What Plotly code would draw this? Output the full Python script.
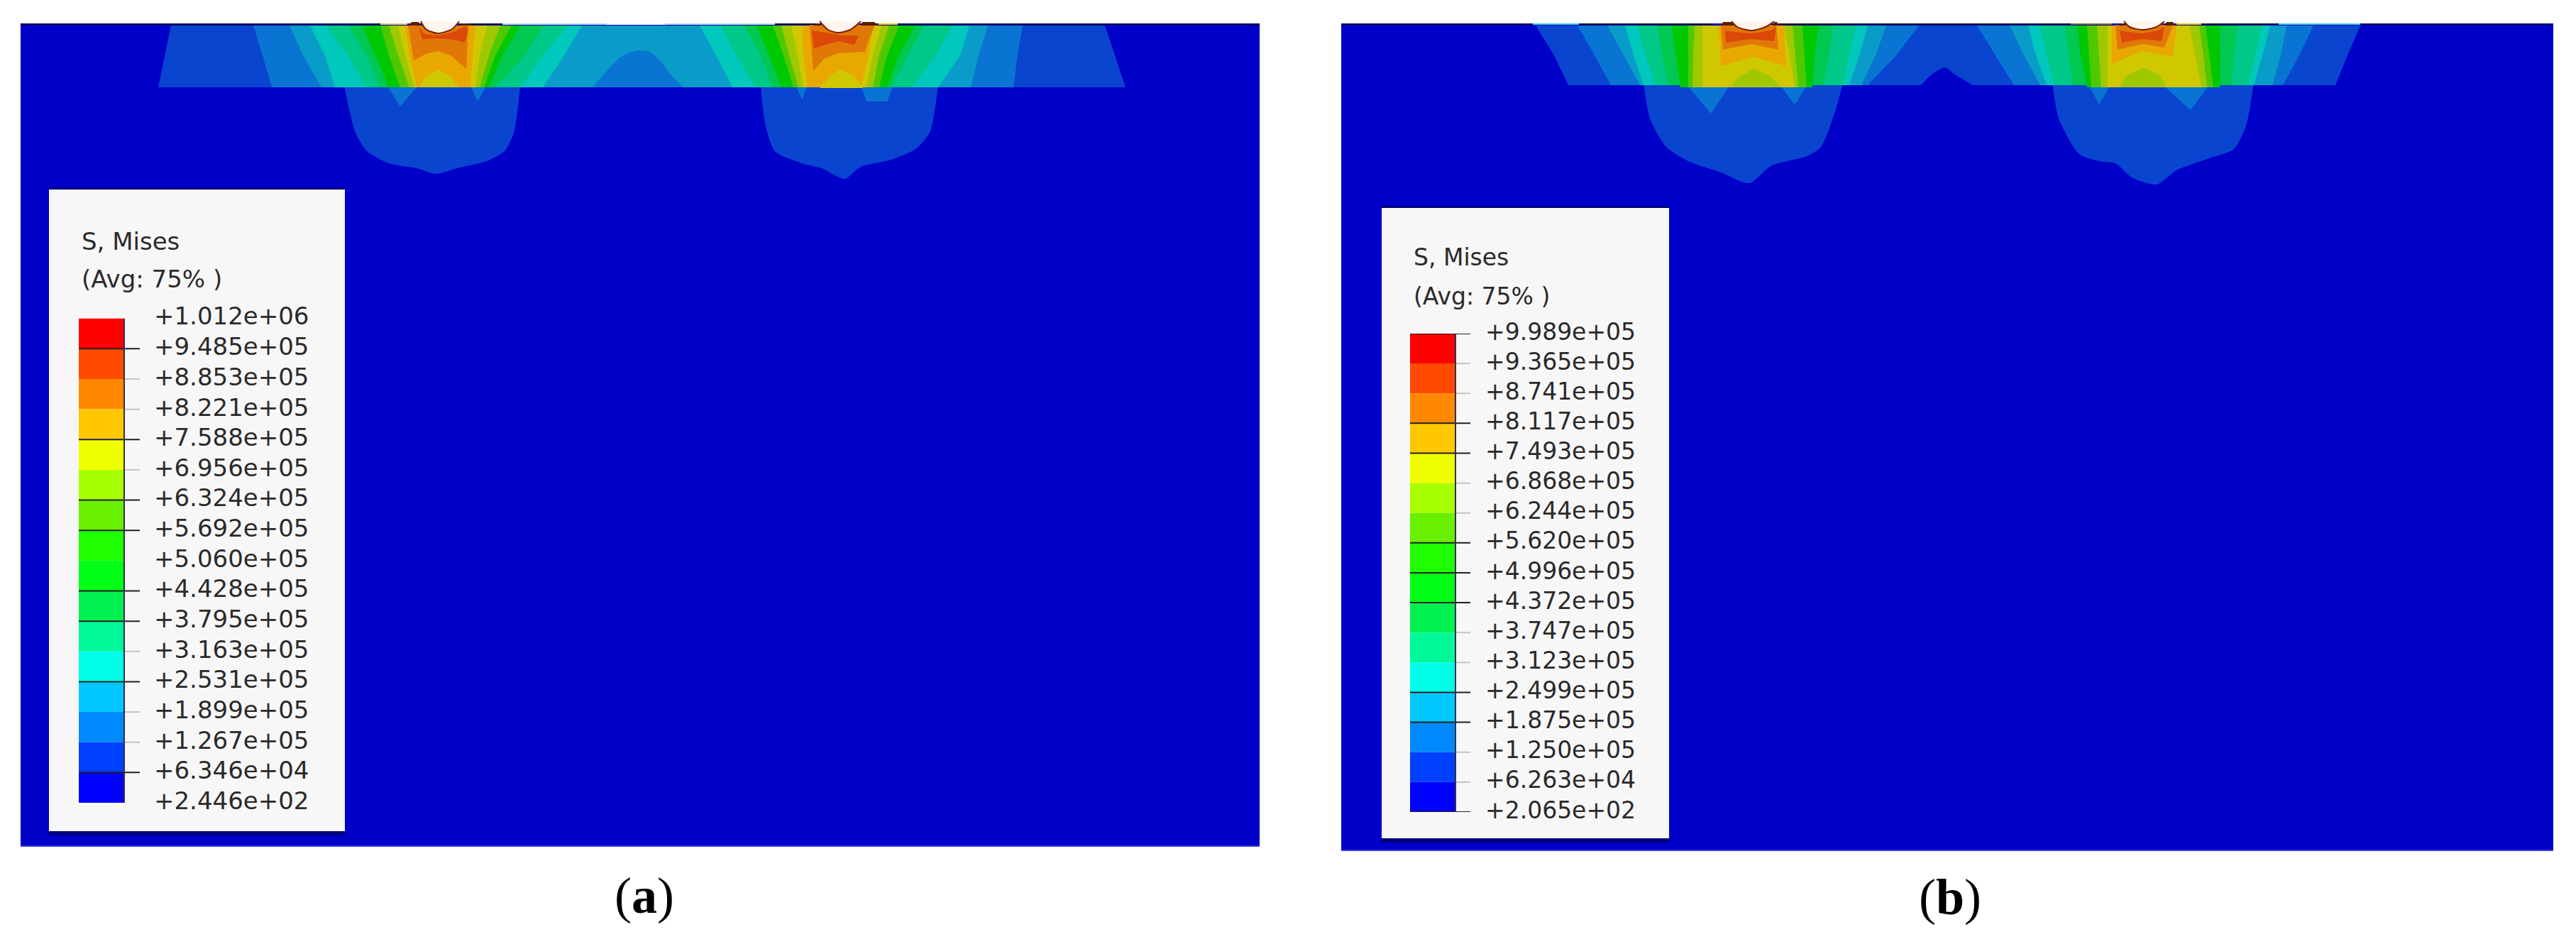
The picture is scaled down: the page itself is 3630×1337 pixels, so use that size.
import plotly.graph_objects as go

W, H = 3630, 1337

# ---------- legend data ----------
A_LABELS = ["+1.012e+06","+9.485e+05","+8.853e+05","+8.221e+05","+7.588e+05","+6.956e+05","+6.324e+05","+5.692e+05","+5.060e+05","+4.428e+05","+3.795e+05","+3.163e+05","+2.531e+05","+1.899e+05","+1.267e+05","+6.346e+04","+2.446e+02"]
B_LABELS = ["+9.989e+05","+9.365e+05","+8.741e+05","+8.117e+05","+7.493e+05","+6.868e+05","+6.244e+05","+5.620e+05","+4.996e+05","+4.372e+05","+3.747e+05","+3.123e+05","+2.499e+05","+1.875e+05","+1.250e+05","+6.263e+04","+2.065e+02"]
A_DARK_TICKS = [1, 4, 6, 7, 9, 10, 12, 15]
A_FAINT_TICKS = [2, 3, 5, 11, 13, 14]
B_DARK_TICKS = [0, 3, 4, 7, 8, 9, 12, 13, 16]
B_FAINT_TICKS = [1, 2, 5, 6, 10, 11, 14, 15]
SPECTRUM = ["#ff0000","#ff4a00","#ff8800","#ffc800","#f0ff00","#a8ff00","#68f000","#20ff00","#00ff14","#00f050","#00f898","#00ffe8","#00c8ff","#0088ff","#0040ff","#0000ff"]

# ---------- contour colours as rendered on the model ----------
BG = "#0000c8"
LV = {1:"#0a45d0",2:"#0a74d2",3:"#0a9cc8",4:"#00c8bc",5:"#00c888",6:"#00c850",7:"#00c800",8:"#50c800",9:"#9fc800",10:"#cfc800",11:"#e8a800",12:"#e07808",13:"#dc4808"}
NOTCH = "#fff6ee"

# ---------- panel (a) contours ----------
A_DEPTH = [36, 78, 123]
A_L1 = ([241,232,223],[1557,1571,1586])
A_L2 = ([357,370,383],[1441,1434,1428])
A_L3 = ([408,427,453],[1392,1379,1368])
A_ARCH_X = [835,855,875,890,902,915,930,945,963]
A_ARCH_Y = [123,100,80,73,71,73,85,105,123]
A1_LEFT = [[437,458,472],[459,490,517],[491,517,536],[510,529,548],[536,548,564],[548,561,577],[561,571,584],[571,577,588]]
A1_RIGHT = [[820,795,765],[800,765,733],[765,740,698],[733,708,689],[721,698,682],[705,689,676],[686,676,670],[670,666,663]]
A2_LEFT = [[986,1009,1032],[1015,1038,1064],[1049,1072,1089],[1066,1084,1101],[1089,1104,1118],[1101,1112,1125],[1115,1124,1132],[1130,1132,1138]]
A2_RIGHT = [[1366,1353,1322],[1342,1319,1285],[1302,1279,1256],[1290,1267,1250],[1267,1250,1239],[1253,1239,1230],[1242,1230,1221],[1230,1224,1213]]
A_BULBS = [
    ([485,491,501,517,548,587,615,644,686,711,724,730,733],[120,150,187,213,230,237,245,237,227,213,187,150,120]),
    ([1072,1078,1092,1130,1158,1190,1213,1256,1290,1310,1322],[120,173,213,230,237,252,235,225,210,187,120]),
]
A_NUBS = [
    ([545,564,590],[120,150,120]),([663,673,686],[120,143,120]),
    ([1121,1130,1138],[120,140,120]),([1213,1221,1250,1259],[120,143,143,120]),
]
A_CORES = [  # (level, xs, ys)
    (12,[575,583,600,617,635,657,660],[36,85,76,72,78,97,36]),
    (10,[590,600,617,635,647],[123,108,98,108,123]),
    (13,[590,598,617,640,655,660,655,640,617,595],[37,48,50,45,37,40,60,56,54,55]),
    (12,[1141,1146,1161,1181,1219,1224,1233],[35,100,83,75,73,57,35]),
    (10,[1155,1170,1184,1204,1216],[124,107,98,107,124]),
    (13,[1144,1158,1187,1210,1204,1181,1147],[43,45,50,50,63,58,68]),
]
A_NOTCHES = [([593,600,617,637,647],[30,41,47,41,30]),([1155,1167,1181,1198,1213],[30,42,46,42,30])]
A_SHOULDERS = [
    ([575,580,590,593],[36,31,31,36]),([647,650,660,668],[36,33,33,36]),
    ([1146,1150,1155,1157],[36,33,33,36]),([1213,1215,1232,1238],[36,31,31,36]),
]
A_TOP_EDGE = [(29,536,"#0c0030"),(536,574,"#d8c860"),(663,708,"#100020"),(708,855,"#b8d8d8"),(855,937,"#f4fbff"),(937,1092,"#b8d8d8"),(1092,1152,"#100020"),(1220,1233,"#201000"),(1238,1265,"#e0d000"),(1265,1775,"#0c0030")]

# ---------- panel (b) contours ----------
B_DEPTH = [36, 78, 120]
B_L1 = ([2164,2190,2210],[3326,3308,3291])
B_HUMP_X = [2707,2722,2741,2755,2780]
B_HUMP_Y = [120,105,95,105,120]
B1_LEFT = [[2223,2247,2270],[2265,2288,2311],[2290,2302,2316],[2308,2319,2333],[2336,2342,2351],[2356,2362,2368],[2379,2379,2379],[2388,2386,2385],[2399,2399,2399]]
B1_RIGHT = [[2704,2672,2632],[2658,2643,2623],[2632,2620,2606],[2615,2606,2598],[2583,2577,2569],[2563,2557,2554],[2540,2543,2546],[2526,2530,2534],[2514,2522,2529]]
B2_LEFT = [[2786,2812,2838],[2832,2852,2875],[2858,2869,2884],[2875,2884,2895],[2910,2915,2921],[2927,2932,2941],[2941,2944,2947],[2955,2958,2961],[2970,2970,2970]]
B2_RIGHT = [[3260,3240,3217],[3222,3214,3202],[3199,3188,3176],[3188,3179,3168],[3153,3148,3145],[3128,3128,3128],[3108,3113,3119],[3099,3105,3110],[3085,3093,3102]]
B_BULBS = [
    ([2316,2325,2348,2379,2425,2465,2497,2546,2566,2586,2597],[116,167,207,227,243,258,233,220,207,157,116]),
    ([2892,2901,2930,2958,2981,3004,3039,3067,3113,3148,3165,3176],[116,167,217,227,230,250,260,240,223,210,177,116]),
]
B_NUBS = [
    ([2374,2411,2440],[116,160,116]),([2506,2529,2549],[116,148,116]),
    ([2941,2958,2976],[116,147,116]),([3044,3087,3116],[116,155,116]),
]
B_CORES = [
    (11,[2422,2425,2471,2517,2514],[36,93,80,93,36]),
    (9,[2440,2448,2471,2494,2509],[122,110,97,107,122]),
    (12,[2425,2428,2468,2506,2503],[35,70,62,70,35]),
    (13,[2431,2445,2468,2495,2503,2500,2468,2432],[43,45,47,43,38,58,55,60]),
    (11,[2976,2976,3019,3062,3067],[36,90,72,80,36]),
    (9,[2987,2996,3021,3044,3053],[123,107,95,107,122]),
    (12,[2981,2984,3019,3050,3062],[35,70,62,67,35]),
    (13,[2987,3000,3019,3040,3050,3046,3019,2990],[43,45,47,43,38,58,55,60]),
]
B_NOTCHES = [([2440,2448,2468,2488,2500],[30,38,43,38,30]),([2993,3001,3019,3039,3050],[30,38,42,38,30])]
B_SHOULDERS = [
    ([2425,2428,2440,2443],[36,31,31,36]),([2498,2500,2504,2507],[36,31,31,36]),
    ([2985,2990,2993,2995],[36,33,33,36]),([3050,3053,3062,3066],[36,31,31,36]),
]
B_TOP_EDGE = [(1890,2160,"#0c0030"),(2160,2225,"#30d0e8"),(2225,2414,"#100020"),(2506,2586,"#201000"),(2586,2918,"#100020"),(2918,2976,"#806820"),(3067,3102,"#d8c000"),(3102,3211,"#100020"),(3211,3326,"#30d0e8"),(3326,3598,"#0c0048")]

# ---------- frame positions, in picture pixels ----------
A_FRAME = (29, 1775, 27, 1193)
B_FRAME = (1890, 3598, 27, 1199)
A_BOX = (69, 486, 267, 1171)
B_BOX = (1947, 2352, 293, 1181)
A_BAR = (111, 197, 448.5, 1131)
B_BAR = (1987, 2072, 470, 1144)
BAR_W = 64


def dom(lo, hi, size):
    return [lo / size, hi / size]


def ydom(top, bottom):
    return [1 - bottom / H, 1 - top / H]


fig = go.Figure()


def poly(xs, ys, color, ref, line=None, width=0, smooth=False):
    ln = dict(color=line or color, width=width)
    if smooth:
        ln.update(shape="spline", smoothing=0.7)
    fig.add_trace(go.Scatter(
        x=list(xs), y=list(ys), mode="lines", fill="toself", fillcolor=color,
        line=ln, hoverinfo="skip", showlegend=False,
        xaxis="x" + ref, yaxis="y" + ref))


def band(left, right, depth, color, ref):
    poly(left + right[::-1], depth + depth[::-1], color, ref)


def rect(x0, x1, y0, y1, color, ref):
    poly([x0, x1, x1, x0], [y0, y0, y1, y1], color, ref)


def edge(seg, y, ref, width=2):
    for x0, x1, c in seg:
        fig.add_trace(go.Scatter(x=[x0, x1], y=[y, y], mode="lines", line=dict(color=c, width=width),
                                 hoverinfo="skip", showlegend=False, xaxis="x" + ref, yaxis="y" + ref))


def legend_box(box, ref):
    rect(box[0], box[1], box[3], box[3] + 6, "#00007c", ref)
    rect(box[0], box[1], box[2] - 3, box[2], "#00007c", ref)
    rect(box[0], box[1], box[2], box[3], "#f8f7f7", ref)


# --- panel (a)
r = ""
rect(A_FRAME[0], A_FRAME[1], 33, A_FRAME[3], BG, r)
edge([(A_FRAME[0], A_FRAME[1], "#3a3ae0")], A_FRAME[3] - 1, r)
for xs, ys in A_BULBS:
    poly(xs, ys, LV[1], r, smooth=True)
for xs, ys in A_NUBS:
    poly(xs, ys, LV[2], r)
band(*A_L1, A_DEPTH, LV[1], r)
band(*A_L2, A_DEPTH, LV[2], r)
band(*A_L3, A_DEPTH, LV[3], r)
poly(A_ARCH_X, A_ARCH_Y, LV[2], r, smooth=True)
for L, R in ((A1_LEFT, A1_RIGHT), (A2_LEFT, A2_RIGHT)):
    for i, (lf, rt) in enumerate(zip(L, R)):
        band(lf, rt, A_DEPTH, LV[4 + i], r)
for lv, xs, ys in A_CORES:
    poly(xs, ys, LV[lv], r)
edge(A_TOP_EDGE, 34, r)
for xs, ys in A_SHOULDERS:
    poly(xs, ys, "#5a2000", r)
for xs, ys in A_NOTCHES:
    poly(xs, ys, NOTCH, r, line="#7a2000", width=2, smooth=True)
legend_box(A_BOX, r)

# --- panel (b)
r = "2"
rect(B_FRAME[0], B_FRAME[1], 33, B_FRAME[3], BG, r)
edge([(B_FRAME[0], B_FRAME[1], "#3a3ae0")], B_FRAME[3] - 1, r)
for xs, ys in B_BULBS:
    poly(xs, ys, LV[1], r, smooth=True)
for xs, ys in B_NUBS:
    poly(xs, ys, LV[2], r)
band(*B_L1, B_DEPTH, LV[1], r)
poly(B_HUMP_X, B_HUMP_Y, BG, r, smooth=True)
for L, R in ((B1_LEFT, B1_RIGHT), (B2_LEFT, B2_RIGHT)):
    for i, (lf, rt) in enumerate(zip(L, R)):
        depth = B_DEPTH if i < 5 else [36, 78, 123]
        band(lf, rt, depth, LV[2 + i], r)
for lv, xs, ys in B_CORES:
    poly(xs, ys, LV[lv], r)
edge(B_TOP_EDGE, 34, r)
for xs, ys in B_SHOULDERS:
    poly(xs, ys, "#5a2000", r)
for xs, ys in B_NOTCHES:
    poly(xs, ys, NOTCH, r, line="#7a2000", width=2, smooth=True)
legend_box(B_BOX, r)


# --- legends: stacked colour steps on a real value axis
def legend(labels, dark, faint, frame, ref, size, shift):
    values = [float(s) for s in labels]
    tick_end = (frame[1] - frame[0]) / BAR_W
    fig.add_trace(go.Bar(
        x=[0.5] * 16, y=[values[i] - values[i + 1] for i in range(16)], base=values[1:], width=1,
        marker=dict(color=SPECTRUM, line=dict(width=0)), hoverinfo="skip", showlegend=False,
        xaxis="x" + ref, yaxis="y" + ref))
    for idx, start, col, wd in ((faint, 1, "#c4c4c4", 2), (dark, 0, "#202020", 2)):
        xs, ys = [], []
        for i in idx:
            xs += [start, tick_end, None]
            ys += [values[i], values[i], None]
        fig.add_trace(go.Scatter(x=xs, y=ys, mode="lines", line=dict(color=col, width=wd),
                                 hoverinfo="skip", showlegend=False, xaxis="x" + ref, yaxis="y" + ref))
    fig.add_trace(go.Scatter(x=[1, 1], y=[values[0], values[-1]], mode="lines", line=dict(color="#303050", width=2),
                             hoverinfo="skip", showlegend=False, xaxis="x" + ref, yaxis="y" + ref))
    return dict(
        xaxis=dict(range=[0, tick_end], domain=dom(frame[0], frame[1], W), visible=False, fixedrange=True, automargin=False),
        yaxis=dict(range=[values[-1], values[0]], domain=ydom(frame[2], frame[3]), side="right", automargin=False,
                   anchor="x" + ref, showgrid=False, zeroline=False, showline=False, ticks="",
                   tickmode="array", tickvals=values, ticktext=labels, ticklabelstandoff=shift, ticklabelshift=-3,
                   tickfont=dict(family="DejaVu Sans", size=size, color="#2a2a2a"), fixedrange=True),
    )


la = legend(A_LABELS, A_DARK_TICKS, A_FAINT_TICKS, A_BAR, "3", 34, 19)
lb = legend(B_LABELS, B_DARK_TICKS, B_FAINT_TICKS, B_BAR, "4", 33, 20)


def panel_axes(frame):
    return (dict(range=[frame[0], frame[1]], domain=dom(frame[0], frame[1], W), visible=False, fixedrange=True, automargin=False),
            dict(range=[frame[3], frame[2]], domain=ydom(frame[2], frame[3]), visible=False, fixedrange=True, automargin=False))


ax, ay = panel_axes(A_FRAME)
bx, by = panel_axes(B_FRAME)
ay["anchor"] = "x"
by["anchor"] = "x2"
bx["anchor"] = "y2"


def note(text, px, py, size, fam="DejaVu Sans", anchor="left", color="#2a2a2a"):
    return dict(text=text, x=px / W, y=1 - py / H, xref="paper", yref="paper", showarrow=False,
                xanchor=anchor, yanchor="middle", font=dict(family=fam, size=size, color=color))


fig.update_layout(
    width=W, height=H, margin=dict(l=0, r=0, t=0, b=0), autosize=False,
    paper_bgcolor="white", plot_bgcolor="rgba(0,0,0,0)", barmode="overlay", showlegend=False,
    xaxis=ax, yaxis=ay, xaxis2=bx, yaxis2=by,
    xaxis3={**la["xaxis"], "anchor": "y3"}, yaxis3=la["yaxis"],
    xaxis4={**lb["xaxis"], "anchor": "y4"}, yaxis4=lb["yaxis"],
    annotations=[
        note("S, Mises", 113, 340, 34),
        note("(Avg: 75% )", 113, 393, 34),
        note("S, Mises", 1990, 362, 33),
        note("(Avg: 75% )", 1990, 417, 33),
        note("(<b>a</b>)", 908, 1262, 72, "Liberation Serif", "center", "black"),
        note("(<b>b</b>)", 2748, 1264, 72, "Liberation Serif", "center", "black"),
    ],
)
fig.write_html("out.html", config={"displayModeBar": False}, post_script="document.body.style.margin='0';")
